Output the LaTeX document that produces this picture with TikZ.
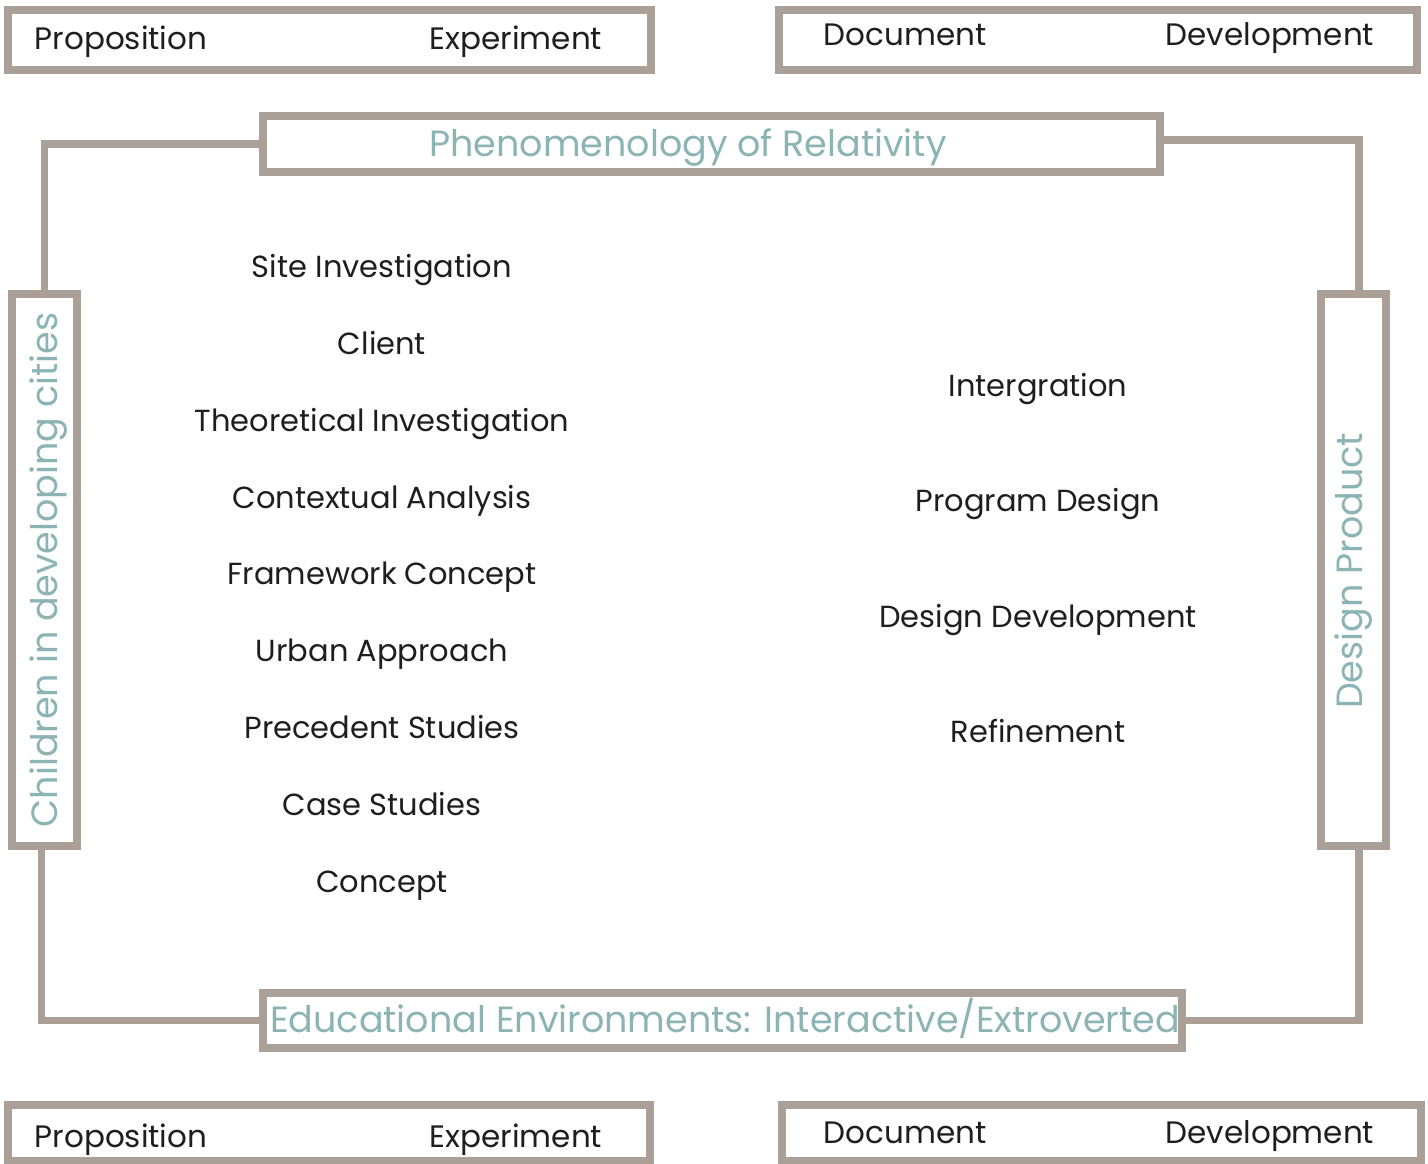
\documentclass[tikz,border=0pt]{standalone}
\usepackage{fontspec}
\setmainfont{Poppins}
\usetikzlibrary{calc}
\definecolor{boxgray}{RGB}{170,160,152}
\definecolor{teal}{RGB}{140,180,180}
\definecolor{ink}{RGB}{30,30,30}
\begin{document}
\begin{tikzpicture}[x=1pt,y=-1pt,
  frame/.style={draw=boxgray, line width=7.5pt, fill=white, inner sep=0pt, outer sep=0pt},
  conn/.style={draw=boxgray, line width=7.5pt},
  item/.style={text=ink, font=\fontsize{30.5}{34}\selectfont, inner sep=0pt, text height=24pt, text depth=0pt},
  corner/.style={text=ink, font=\fontsize{31}{34}\selectfont, inner sep=0pt, text height=24pt, text depth=0pt},
  headtxt/.style={text=teal, font=\fontsize{36.5}{40}\selectfont, inner sep=0pt, text height=28pt, text depth=0pt},
  sidetxt/.style={text=teal, font=\fontsize{36.5}{40}\selectfont, inner sep=0pt, rotate=90}]
\useasboundingbox (0,0) rectangle (1428,1164);
% corner boxes
\node[frame, minimum width=643, minimum height=60] (tl) at (329.5,40) {};
\node[frame, minimum width=638, minimum height=60] (tr) at (1098,40) {};
\node[frame, minimum width=642, minimum height=56] (bl) at (329,1133) {};
\node[frame, minimum width=639, minimum height=56] (br) at (1101.5,1133) {};
\node[corner] (tlA) at (121,38) {Proposition};
\node[corner] (tlB) at (516,38) {Experiment};
\node[corner] (trA) at (905,34) {Document};
\node[corner] (trB) at (1270,34) {Development};
\node[corner] (blA) at (121,1135) {Proposition};
\node[corner] (blB) at (516,1135) {Experiment};
\node[corner] (brA) at (905,1131) {Document};
\node[corner] (brB) at (1270,1131) {Development};
% frame boxes
\node[frame, minimum width=897, minimum height=56] (phen) at (711.5,144) {};
\node[frame, minimum width=919, minimum height=55] (edu) at (722.5,1020.5) {};
\node[frame, minimum width=65, minimum height=552] (lv) at (44.5,570) {};
\node[frame, minimum width=65, minimum height=552] (rv) at (1353.5,570) {};
% connectors
\draw[conn] (lv.north) |- (phen.west);
\draw[conn] ($(phen.east)+(0,-4)$) -| ($(rv.north)+(5.5,0)$);
\draw[conn] ($(lv.south)+(-3,0)$) |- (edu.west);
\draw[conn] (edu.east) -| ($(rv.south)+(5.5,0)$);
% redraw boxes over connectors
\node[frame, minimum width=897, minimum height=56] at (711.5,144) {};
\node[frame, minimum width=919, minimum height=55] at (722.5,1020.5) {};
\node[frame, minimum width=65, minimum height=552] at (44.5,570) {};
\node[frame, minimum width=65, minimum height=552] at (1353.5,570) {};
\node[headtxt] (phenT) at (688,142) {Phenomenology of Relativity};
\node[headtxt] (eduT) at (725,1018) {Educational Environments: Interactive/Extroverted};
\node[sidetxt] (lvT) at (49,570) {Children in developing cities};
\node[sidetxt] (rvT) at (1354,571) {Design Product};
% left column
\node[item] (l1) at (382,265) {Site Investigation};
\node[item] (l2) at (382,342) {Client};
\node[item] (l3) at (382,419) {Theoretical Investigation};
\node[item] (l4) at (382,496) {Contextual Analysis};
\node[item] (l5) at (382,572) {Framework Concept};
\node[item] (l6) at (382,649) {Urban Approach};
\node[item] (l7) at (382,726) {Precedent Studies};
\node[item] (l8) at (382,803) {Case Studies};
\node[item] (l9) at (382,880) {Concept};
% right column
\node[item] (r1) at (1038,384) {Intergration};
\node[item] (r2) at (1038,499) {Program Design};
\node[item] (r3) at (1038,615) {Design Development};
\node[item] (r4) at (1038,730) {Refinement};
\end{tikzpicture}
\end{document}
